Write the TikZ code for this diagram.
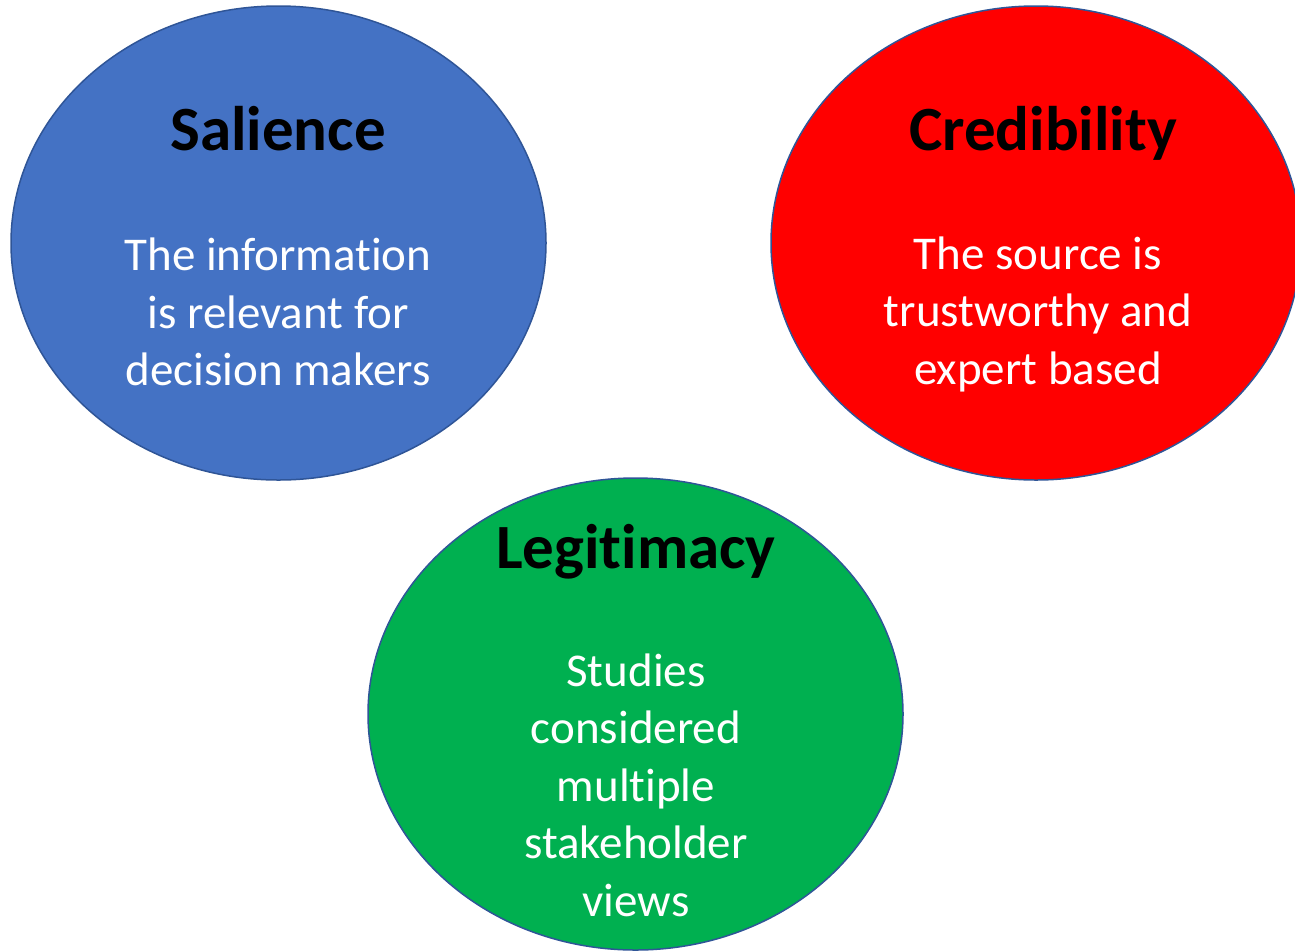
\documentclass[tikz,border=0pt]{standalone}
\usepackage{fontspec}
\setmainfont{Carlito}[Ligatures={NoCommon,NoContextual},RawFeature={-liga;-clig;-calt}]
\definecolor{cblue}{HTML}{4472C4}
\definecolor{cred}{HTML}{FF0000}
\definecolor{cgreen}{HTML}{00B050}
\definecolor{cline}{HTML}{2F5597}
\begin{document}
\begin{tikzpicture}[x=1pt,y=-1pt,
  circ/.style={draw=cline,line width=1.5pt},
  ttl/.style={font=\fontsize{63}{70}\selectfont\bfseries,text=black,anchor=base,inner sep=0pt},
  body/.style={font=\fontsize{47}{57.5}\selectfont,text=white,align=center,inner sep=0pt}]
\useasboundingbox (0,0) rectangle (1295,951);
\clip (0,0) rectangle (1295,951);
\filldraw[circ,fill=cblue] (278.5,243) ellipse [x radius=267.5, y radius=237];
\filldraw[circ,fill=cred] (1036,243) ellipse [x radius=265, y radius=237];
\filldraw[circ,fill=cgreen] (635.5,714) ellipse [x radius=267.5, y radius=236];
\node[ttl] (t1) at (278,150) {Salience};
\node[ttl] (t2) at (1043,150) {Credibility};
\node[ttl] (t3) at (636,568) {Legitimacy};
\node[body] (b1) at (278,312) {The information\\is relevant for\\decision makers};
\node[body] (b2) at (1038,314) {The source is\\trustworthy and\\expert based};
\node[body] (b3) at (636,785) {Studies\\considered\\multiple\\stakeholder\\views};
\end{tikzpicture}
\end{document}
